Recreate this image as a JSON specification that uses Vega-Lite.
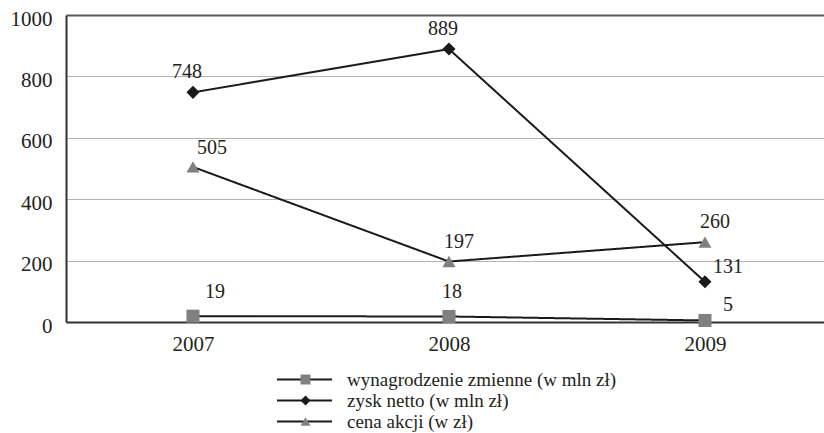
{
  "$schema": "https://vega.github.io/schema/vega-lite/v6.json",
  "autosize": "none",
  "width": 758,
  "height": 307,
  "padding": {"left": 66, "top": 15, "right": 0, "bottom": 111},
  "background": "white",
  "config": {
    "view": {"stroke": null},
    "font": "Liberation Serif"
  },
  "data": {
    "values": [
      {"year": 2007, "series": "wynagrodzenie zmienne (w mln zł)", "value": 19},
      {"year": 2008, "series": "wynagrodzenie zmienne (w mln zł)", "value": 18},
      {"year": 2009, "series": "wynagrodzenie zmienne (w mln zł)", "value": 5},
      {"year": 2007, "series": "zysk netto (w mln zł)", "value": 748},
      {"year": 2008, "series": "zysk netto (w mln zł)", "value": 889},
      {"year": 2009, "series": "zysk netto (w mln zł)", "value": 131},
      {"year": 2007, "series": "cena akcji (w zł)", "value": 505},
      {"year": 2008, "series": "cena akcji (w zł)", "value": 197},
      {"year": 2009, "series": "cena akcji (w zł)", "value": 260}
    ]
  },
  "encoding": {
    "x": {
      "field": "year", "type": "quantitative",
      "scale": {"domain": [2006.504, 2009.465], "nice": false, "zero": false},
      "axis": {
        "title": null, "values": [2007, 2008, 2009], "format": "d",
        "grid": false, "ticks": false, "labelPadding": 11,
        "labelFont": "Liberation Serif", "labelFontSize": 21, "labelColor": "#231f20",
        "domainColor": "#333333", "domainWidth": 2
      }
    },
    "y": {
      "field": "value", "type": "quantitative",
      "scale": {"domain": [0, 1000], "nice": false},
      "axis": {
        "title": null, "values": [0, 200, 400, 600, 800, 1000], "format": "d",
        "ticks": false, "labelPadding": 14, "labelOffset": 4,
        "labelFont": "Liberation Serif", "labelFontSize": 21, "labelColor": "#231f20",
        "domainColor": "#333333", "domainWidth": 2,
        "gridColor": {"condition": {"test": "datum.value == 1000", "value": "#5a5a5a"}, "value": "#b4b4b4"},
        "gridWidth": {"condition": {"test": "datum.value == 1000", "value": 2}, "value": 1}
      }
    }
  },
  "layer": [
    {
      "mark": {"type": "line", "color": "#1a1a1a", "strokeWidth": 2},
      "encoding": {
        "strokeDash": {
          "field": "series", "type": "nominal",
          "scale": {
            "domain": ["zysk netto (w mln zł)", "wynagrodzenie zmienne (w mln zł)", "cena akcji (w zł)"],
            "range": [[1, 0], [1, 0], [1, 0]]
          },
          "legend": {
            "orient": "none", "legendX": 229, "legendY": 355, "padding": 0, "zindex": 0,
            "title": null, "symbolType": "M-5,0H5", "symbolSize": 121,
            "symbolStrokeColor": "#1a1a1a", "symbolStrokeWidth": 2,
            "labelFontSize": 19, "labelExpr": "''", "rowPadding": 1
          }
        }
      }
    },
    {
      "mark": {"type": "point", "filled": true, "size": 170, "opacity": 1},
      "encoding": {
        "shape": {
          "field": "series", "type": "nominal",
          "scale": {
            "domain": ["wynagrodzenie zmienne (w mln zł)", "zysk netto (w mln zł)", "cena akcji (w zł)"],
            "range": ["square", "diamond", "triangle-up"]
          }
        },
        "color": {
          "field": "series", "type": "nominal",
          "scale": {
            "domain": ["wynagrodzenie zmienne (w mln zł)", "zysk netto (w mln zł)", "cena akcji (w zł)"],
            "range": ["#808080", "#1a1a1a", "#808080"]
          },
          "legend": {
            "orient": "none", "legendX": 230, "legendY": 355, "padding": 0, "zindex": 1,
            "title": null, "symbolSize": 100, "symbolStrokeWidth": 0,
            "labelFont": "Liberation Serif", "labelFontSize": 19, "labelColor": "#231f20",
            "labelOffset": 32, "rowPadding": 1, "labelLimit": 400
          }
        }
      }
    },
    {
      "transform": [{"filter": "datum.value == 748 || datum.value == 889"}],
      "mark": {"type": "text", "font": "Liberation Serif", "dx": -6, "dy": -20, "fontSize": 20, "color": "#231f20"},
      "encoding": {"text": {"field": "value", "type": "quantitative"}}
    },
    {
      "transform": [{"filter": "datum.value == 197 || datum.value == 260"}],
      "mark": {"type": "text", "font": "Liberation Serif", "dx": 10, "dy": -20, "fontSize": 20, "color": "#231f20"},
      "encoding": {"text": {"field": "value", "type": "quantitative"}}
    },
    {
      "transform": [{"filter": "datum.value == 505"}],
      "mark": {"type": "text", "font": "Liberation Serif", "dx": 19, "dy": -19, "fontSize": 20, "color": "#231f20"},
      "encoding": {"text": {"field": "value", "type": "quantitative"}}
    },
    {
      "transform": [{"filter": "datum.value == 18"}],
      "mark": {"type": "text", "font": "Liberation Serif", "dx": 3, "dy": -24, "fontSize": 20, "color": "#231f20"},
      "encoding": {"text": {"field": "value", "type": "quantitative"}}
    },
    {
      "transform": [{"filter": "datum.value == 19"}],
      "mark": {"type": "text", "font": "Liberation Serif", "dx": 22, "dy": -24, "fontSize": 20, "color": "#231f20"},
      "encoding": {"text": {"field": "value", "type": "quantitative"}}
    },
    {
      "transform": [{"filter": "datum.value == 131 || datum.value == 5"}],
      "mark": {"type": "text", "font": "Liberation Serif", "dx": 23, "dy": -15, "fontSize": 20, "color": "#231f20"},
      "encoding": {"text": {"field": "value", "type": "quantitative"}}
    }
  ]
}
